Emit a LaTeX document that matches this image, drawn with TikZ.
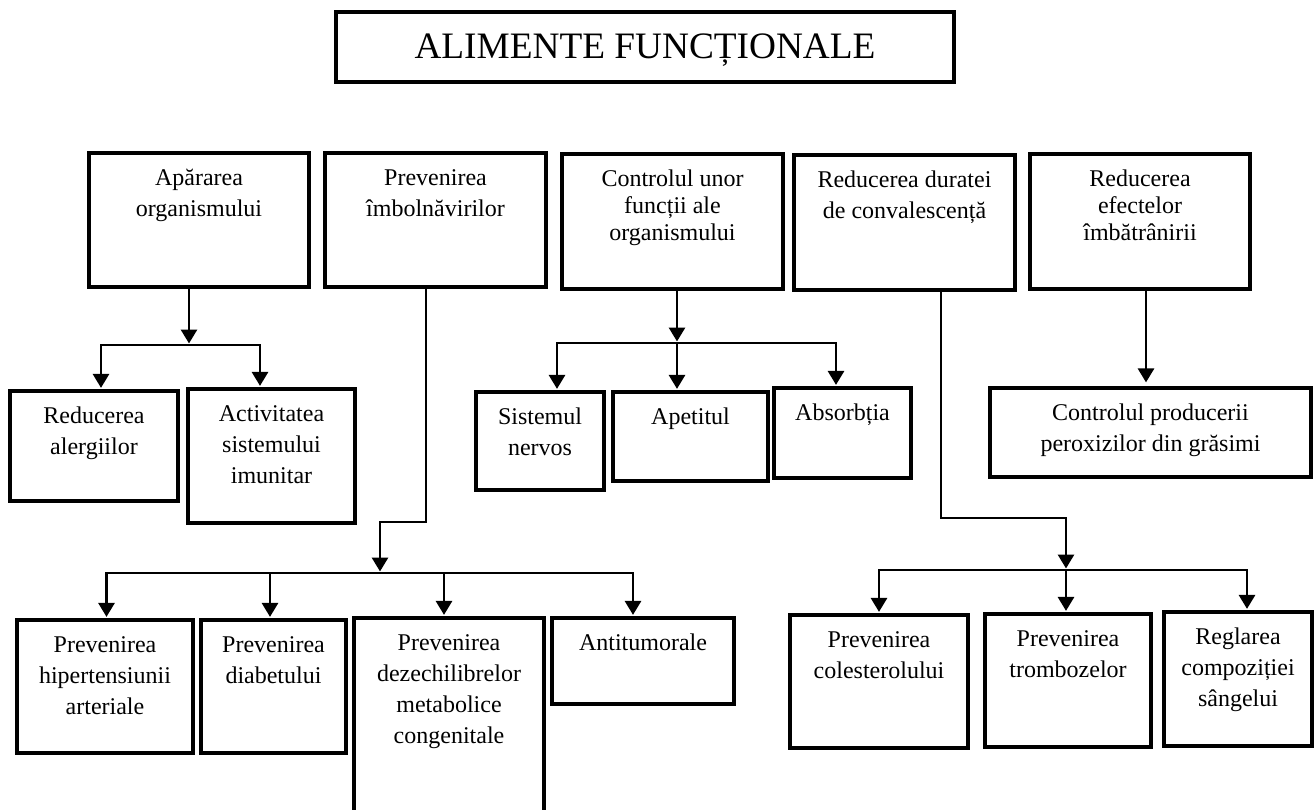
\documentclass[tikz,border=0pt]{standalone}
\usepackage{fontspec}
\setmainfont{Liberation Serif}
\usetikzlibrary{arrows.meta,fit,calc}
\newcommand\tl[1]{\begin{tabular}[t]{@{}c@{}}#1\end{tabular}}
\tikzset{
  box/.style={draw, line width=3.2pt, inner sep=0pt},
  lbl/.style={inner sep=0pt, font=\fontsize{24}{31}\selectfont},
  lbltop/.style={inner sep=0pt, font=\fontsize{24}{27}\selectfont},
  conn/.style={line width=2.9pt, line join=miter},
  arr/.style={conn, -{Triangle[width=16pt,length=14pt]}, shorten >=1.5pt},
}
\newcommand\bx[7][lbl]{%
  \node[box, fit={(#3,#4) (#5,#6)}] (#2) {};
  \node[#1, anchor=base] (#2t) at ([yshift=-34pt]#2.north) {\tl{#7}};
}
\begin{document}
\begin{tikzpicture}[x=1pt,y=-1pt]
\useasboundingbox (0,0) rectangle (1314,810);
% title
\node[box, fit={(336,12) (954,82)}] (T) {};
\node[inner sep=0pt, anchor=base, font=\fontsize{37.3}{40}\selectfont] (Tt) at ([yshift=-48pt]T.north) {ALIMENTE FUNCȚIONALE};
% top row
\bx[lbl]{B1}{89}{153}{309}{287}{Apărarea\\organismului}
\bx[lbl]{B2}{325}{153}{546}{287}{Prevenirea\\îmbolnăvirilor}
\bx[lbltop]{B3}{562}{154}{783}{289}{Controlul unor\\funcții ale\\organismului}
\bx[lbl]{B4}{794}{155}{1015}{290}{Reducerea duratei\\de convalescență}
\bx[lbltop]{B5}{1030}{154}{1250}{289}{Reducerea\\efectelor\\îmbătrânirii}
% second row
\bx{C1}{10}{391}{178}{501}{Reducerea\\alergiilor}
\bx{C2}{188}{389}{355}{523}{Activitatea\\sistemului\\imunitar}
\bx{S1}{476}{392}{604}{490}{Sistemul\\nervos}
\bx{S2}{613}{392}{768}{481}{Apetitul}
\bx{S3}{774}{388}{911}{478}{Absorbția}
\bx{P}{990}{388}{1311}{477}{Controlul producerii\\peroxizilor din grăsimi}
% third row
\bx{D1}{17}{620}{193}{753}{Prevenirea\\hipertensiunii\\arteriale}
\bx{D2}{201}{620}{346}{753}{Prevenirea\\diabetului}
\bx{D3}{354}{618}{544}{840}{Prevenirea\\dezechilibrelor\\metabolice\\congenitale}
\bx{D4}{552}{618}{734}{704}{Antitumorale}
\bx{E1}{790}{615}{968}{748}{Prevenirea\\colesterolului}
\bx{E2}{985}{614}{1151}{747}{Prevenirea\\trombozelor}
\bx{E3}{1164}{612}{1312}{746}{Reglarea\\compoziției\\sângelui}
% connectors B1
\coordinate (j1) at (189,345);
\coordinate (x1a) at (101,0);
\coordinate (x1b) at (260,0);
\draw[arr] (B1.south -| j1) -- (j1);
\draw[arr] (j1) -| (C1.north -| x1a);
\draw[arr] (j1) -| (C2.north -| x1b);
% connectors B2
\coordinate (k2) at (426,522);
\coordinate (j2) at (380,573);
\coordinate (x2a) at (106.5,0);
\coordinate (x2b) at (270,0);
\coordinate (x2c) at (444,0);
\coordinate (x2d) at (633,0);
\draw[arr] (B2.south -| k2) -- (k2) -| (j2);
\draw[arr] (j2) -| (D1.north -| x2a);
\draw[arr] (j2) -| (D2.north -| x2b);
\draw[arr] (j2) -| (D3.north -| x2c);
\draw[arr] (j2) -| (D4.north -| x2d);
% connectors B3
\coordinate (j3) at (677,343);
\coordinate (x3a) at (557,0);
\coordinate (x3c) at (836,0);
\draw[arr] (B3.south -| j3) -- (j3);
\draw[arr] (j3) -| (S1.north -| x3a);
\draw[arr] (j3) -- (S2.north -| j3);
\draw[arr] (j3) -| (S3.north -| x3c);
% connectors B4
\coordinate (k4) at (941,518);
\coordinate (j4) at (1066,570);
\coordinate (x4a) at (879,0);
\coordinate (x4c) at (1247,0);
\draw[arr] (B4.south -| k4) -- (k4) -| (j4);
\draw[arr] (j4) -| (E1.north -| x4a);
\draw[arr] (j4) -- (E2.north -| j4);
\draw[arr] (j4) -| (E3.north -| x4c);
% connector B5
\coordinate (x5) at (1146,0);
\draw[arr, shorten >=4pt] (B5.south -| x5) -- (P.north -| x5);
\end{tikzpicture}
\end{document}
